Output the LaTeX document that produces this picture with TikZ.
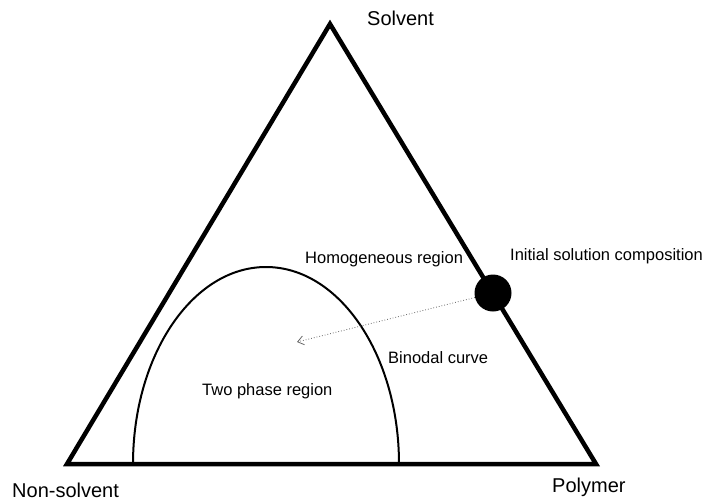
\documentclass[tikz,border=0pt]{standalone}
\usepackage{fontspec}
\setmainfont{Liberation Sans}
\usetikzlibrary{arrows.meta}
\begin{document}
\begin{tikzpicture}[x=1pt,y=1pt,
  corner/.style={font=\fontsize{20}{24}\selectfont,anchor=base west,inner sep=0pt},
  lbl/.style={font=\fontsize{16.5}{20}\selectfont,anchor=base west,inner sep=0pt},
  side/.style={line width=4.5pt,line join=miter},
  curve/.style={line width=2pt},
  path/.style={gray!80!black,line width=0.8pt,dotted,-{Straight Barb[length=6pt,width=9pt,line width=0.8pt]}}]
  \useasboundingbox (0,0) rectangle (708,-501);
  % Vertices of the ternary diagram
  \coordinate (S) at (330,-24);
  \coordinate (N) at (67,-464);
  \coordinate (P) at (596,-464);
  \draw[side] (S) -- (P) -- (N) -- cycle;
  % Binodal curve
  \draw[curve] (133,-464) arc[start angle=180,end angle=0,x radius=133,y radius=197];
  % Initial composition and its path into the two phase region
  \node[circle,fill=black,minimum size=37pt,inner sep=0pt] (dot) at (493,-293) {};
  \coordinate (end) at (297,-342);
  \draw[path] (dot) -- (end);
  % Labels
  \node[corner] (solvent) at (367,-25) {Solvent};
  \node[corner] (nonsolvent) at (12,-497) {Non-solvent};
  \node[corner] (polymer) at (552,-492) {Polymer};
  \node[lbl] (homog) at (305,-263) {Homogeneous region};
  \node[lbl] (init) at (510,-260) {Initial solution composition};
  \node[lbl] (binodal) at (388,-363) {Binodal curve};
  \node[lbl] (twophase) at (202,-395) {Two phase region};
\end{tikzpicture}
\end{document}
